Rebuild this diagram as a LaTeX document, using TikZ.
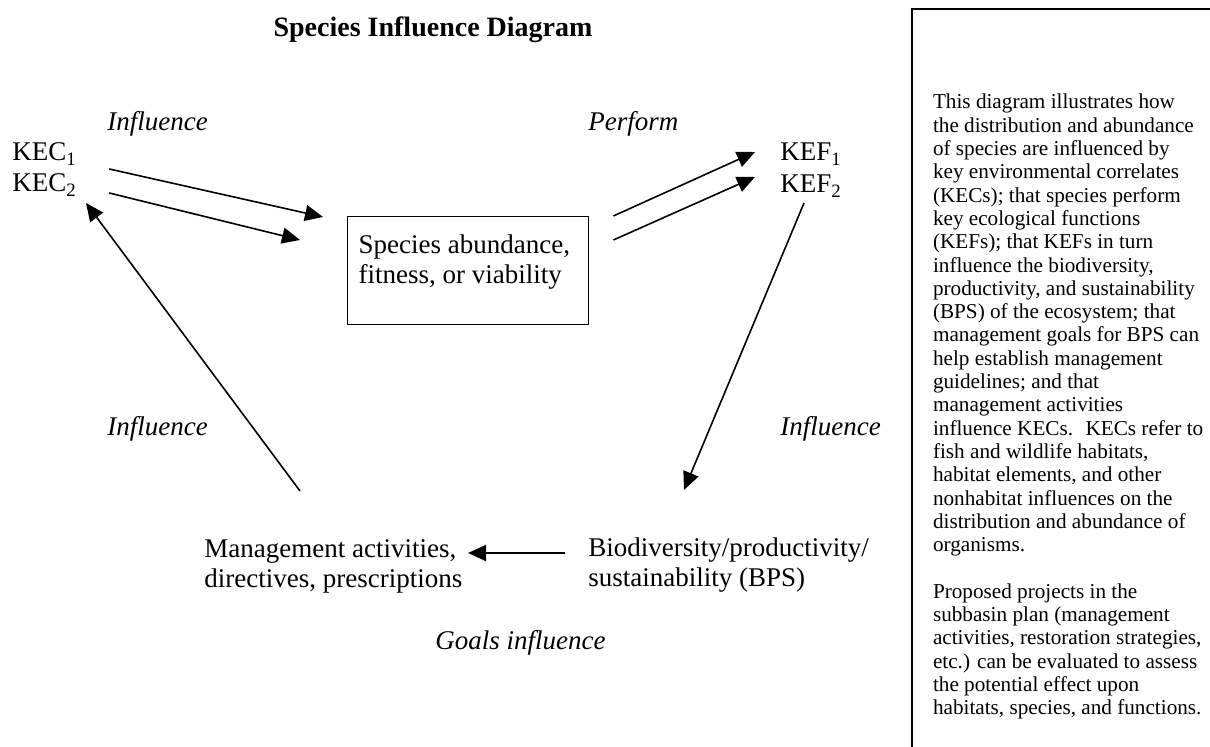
\documentclass[tikz,border=0pt]{standalone}
\usepackage{fontspec}
\setmainfont{Liberation Serif}
\usetikzlibrary{arrows.meta}
\tikzset{
  txt/.style={font=\fontsize{13.5}{15}\selectfont, inner sep=0pt, anchor=base west},
  itl/.style={txt, font=\fontsize{13.5}{15}\selectfont\itshape},
  ttl/.style={font=\fontsize{14}{16}\selectfont\bfseries, inner sep=0pt, anchor=base},
  specbox/.style={draw, line width=0.7pt, font=\fontsize{13.5}{15}\selectfont,
                  inner xsep=5.5pt, inner ysep=8pt, anchor=north west},
  notebox/.style={draw, line width=1pt, font=\fontsize{10.6}{11.65}\selectfont,
                  inner xsep=10.5pt, inner ysep=41.8pt, anchor=north west},
  flowarr/.style={-{Triangle[length=9pt,width=8pt]}, line width=0.8pt},
}
\begin{document}
\begin{tikzpicture}[x=0.5pt, y=-0.5pt]
  \useasboundingbox (0,0) rectangle (1210,747);
  % title
  \node[ttl] (title) at (433,37) {Species Influence Diagram};
  % the four corners of the loop
  \node[txt] (kec1) at (12,161) {KEC\textsubscript{1}};
  \node[txt] (kec2) at (12,192) {KEC\textsubscript{2}};
  \node[specbox] (spec) at (347,216)
    {\parbox[t][38pt][t]{109.5pt}{\raggedright\strut Species abundance,\\ fitness, or viability}};
  \node[txt] (kef1) at (780,161) {KEF\textsubscript{1}};
  \node[txt] (kef2) at (780,193) {KEF\textsubscript{2}};
  \node[txt, align=left] (bps) at (588,587) {Biodiversity/productivity/\\ sustainability (BPS)};
  \node[txt, align=left] (mgmt) at (204,588) {Management activities,\\ directives, prescriptions};
  % arrow labels
  \node[itl] (infA) at (107,131) {Influence};
  \node[itl] (perf) at (588,131) {Perform};
  \node[itl] (infB) at (780,436) {Influence};
  \node[itl] (infC) at (107,436) {Influence};
  \node[itl] (goals) at (435,650) {Goals influence};
  % connectors
  \draw[flowarr] ([shift={(32,8)}]kec1.base east) -- ([shift={(-24,1)}]spec.north west);
  \draw[flowarr] ([shift={(32,1)}]kec2.base east) -- ([shift={(-47,24)}]spec.north west);
  \draw[flowarr] ([shift={(24,0)}]spec.north east) -- ([shift={(-25,-9)}]kef1.base west);
  \draw[flowarr] ([shift={(24,24)}]spec.north east) -- ([shift={(-25,-16)}]kef2.base west);
  \draw[flowarr] ([shift={(24,10)}]kef2.base west) -- ([shift={(96,-97)}]bps.base west);
  \draw[flowarr] ([shift={(-23,-34)}]bps.base west) -- ([shift={(264,-35)}]mgmt.base west);
  \draw[flowarr] ([shift={(96,-97)}]mgmt.base west) -- ([shift={(74,11)}]kec2.base west);
  % side note, runs off the page at right and bottom
  \node[notebox] (note) at (911,8) {\parbox[t][300pt][t]{148pt}{\raggedright\strut
    This diagram illustrates how\\
    the distribution and abundance\\
    of species are influenced by\\
    key environmental correlates\\
    (KECs); that species perform\\
    key ecological functions\\
    (KEFs); that KEFs in turn\\
    influence the biodiversity,\\
    productivity, and sustainability\\
    (BPS) of the ecosystem; that\\
    management goals for BPS can\\
    help establish management\\
    guidelines; and that\\
    management activities\\
    influence KECs.~ KECs refer to\\
    fish and wildlife habitats,\\
    habitat elements, and other\\
    nonhabitat influences on the\\
    distribution and abundance of\\
    organisms.\\[11.65pt]
    Proposed projects in the\\
    subbasin plan (management\\
    activities, restoration strategies,\\
    etc.) can be evaluated to assess\\
    the potential effect upon\\
    habitats, species, and functions.}};
\end{tikzpicture}
\end{document}
